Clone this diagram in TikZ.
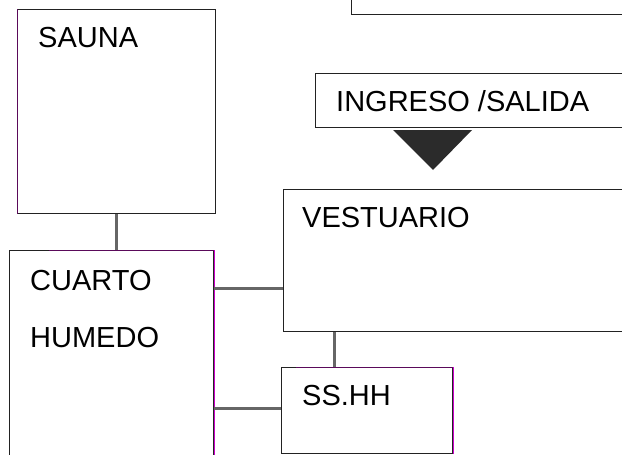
\documentclass[tikz,border=0pt]{standalone}
\usepackage{fontspec}
\setmainfont{Liberation Sans}
\definecolor{edgecol}{HTML}{222222}
\definecolor{linkcol}{HTML}{666666}
\definecolor{accentcol}{HTML}{CC00CC}
\definecolor{purplecol}{HTML}{5A0A5A}
\definecolor{tricol}{HTML}{2B2B2B}
\tikzset{
  room/.style={draw=edgecol, line width=1pt, fill=white, anchor=north west, inner sep=0pt},
  lbl/.style={anchor=base west, inner sep=0pt, font=\fontsize{29}{34}\selectfont},
  connector/.style={draw=linkcol, line width=3pt},
  acc/.style={draw=accentcol, line width=1pt}
}
\begin{document}
\begin{tikzpicture}[x=1pt,y=-1pt]
\clip (0,0) rectangle (622,455);
\fill[white] (0,0) rectangle (622,455);
% connectors (behind boxes)
\coordinate (c1) at (116,213);
\coordinate (h1) at (213,288);
\coordinate (h2) at (213,408);
\coordinate (v1) at (334,331);
% boxes
\node[room, minimum width=320pt, minimum height=44pt] (top) at (351,-30) {};
\node[room, minimum width=198pt, minimum height=204pt] (sauna) at (17,9) {};
\node[room, minimum width=320pt, minimum height=54pt] (ingreso) at (315,73) {};
\node[room, minimum width=204pt, minimum height=230pt] (cuarto) at (9,250) {};
\node[room, minimum width=360pt, minimum height=142pt] (vest) at (283,189) {};
\node[room, minimum width=171pt, minimum height=86pt] (sshh) at (281,367) {};
% accents
\draw[acc] ([xshift=0.8pt]cuarto.north east) -- ([xshift=0.8pt]cuarto.south east);
\draw[draw=purplecol, line width=1pt] ([xshift=40pt]cuarto.north west) -- (cuarto.north east);
\draw[acc] ([xshift=0.8pt]sshh.north east) -- ([xshift=0.8pt]sshh.south east);
\draw[draw=purplecol, line width=1pt] ([xshift=15pt]sshh.north west) -- (sshh.north east);
\draw[draw=purplecol, line width=1pt] (sauna.north west) -- (sauna.south west);
% connectors
\draw[connector] (sauna.south -| c1) -- (cuarto.north -| c1);
\draw[connector] (cuarto.east |- h1) -- (vest.west |- h1);
\draw[connector] (cuarto.east |- h2) -- (sshh.west |- h2);
\draw[connector] (vest.south -| v1) -- (sshh.north -| v1);
% arrow triangle
\coordinate (ta) at (393,130);
\coordinate (tb) at (472,130);
\coordinate (tc) at (433,170);
\fill[tricol] (ta) -- (tb) -- (tc) -- cycle;
% labels
\node[lbl] (tsauna) at (38,47) {SAUNA};
\node[lbl] (tcuarto) at (30,290) {CUARTO};
\node[lbl] (thumedo) at (30,347) {HUMEDO};
\node[lbl] (tvest) at (302,227) {VESTUARIO};
\node[lbl] (tingreso) at (336,111) {INGRESO /SALIDA};
\node[lbl] (tsshh) at (302,405) {SS.HH};
\end{tikzpicture}
\end{document}
